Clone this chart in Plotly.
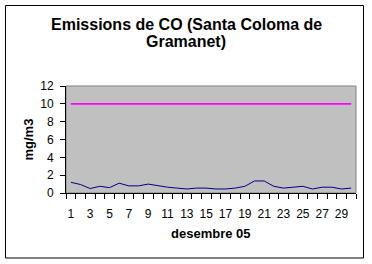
import plotly.graph_objects as go

# ---- data ----
days = list(range(1, 31))
co_values = [1.2, 0.95, 0.5, 0.75, 0.6, 1.1, 0.8, 0.8, 1.0, 0.8,
             0.65, 0.55, 0.45, 0.55, 0.55, 0.45, 0.45, 0.55, 0.75, 1.35,
             1.35, 0.75, 0.55, 0.65, 0.75, 0.45, 0.65, 0.65, 0.45, 0.55]
limit_values = [10, 10, 10, 10, 10, 10, 10, 10, 10, 10,
                10, 10, 10, 10, 10, 10, 10, 10, 10, 10,
                10, 10, 10, 10, 10, 10, 10, 10, 10, 10]
x_tick_labels = [str(d) for d in days if d % 2 == 1]
x_tick_vals = [d for d in days if d % 2 == 1]
y_ticks = [0, 2, 4, 6, 8, 10, 12]

title_line1 = "Emissions de CO (Santa Coloma de"
title_line2 = "Gramanet)"
y_title = "mg/m3"
x_title = "desembre 05"

FONT = "Arial, Liberation Sans, sans-serif"

fig = go.Figure()
fig.add_trace(go.Scatter(x=days, y=limit_values, mode="lines",
                         line=dict(color="#FF00FF", width=1.6),
                         showlegend=False, hoverinfo="skip"))
fig.add_trace(go.Scatter(x=days, y=co_values, mode="lines",
                         line=dict(color="#000080", width=1),
                         showlegend=False, hoverinfo="skip"))

W, H = 372, 264
L, R, T, B = 66, 16, 86, 71
pw, ph = W - L - R, H - T - B

def px_x(p):
    return (p - L) / pw

def px_y(p):
    return (H - B - p) / ph

fig.update_layout(
    width=W, height=H,
    margin=dict(l=L, r=R, t=T, b=B, pad=0),
    paper_bgcolor="white",
    plot_bgcolor="#C0C0C0",
    font=dict(family=FONT, size=12, color="black"),
    xaxis=dict(
        range=[0.5, 30.5],
        tickmode="array", tickvals=x_tick_vals, ticktext=x_tick_labels,
        ticks="", showgrid=False, zeroline=False,
        showline=True, linecolor="black", linewidth=1,
        ticklabelstandoff=10,
        tickfont=dict(size=12),
        minor=dict(tickmode="linear", tick0=0.5, dtick=1, ticks="outside",
                   ticklen=5, tickcolor="black", tickwidth=1, showgrid=False),
        fixedrange=True,
    ),
    yaxis=dict(
        range=[0, 12],
        tickmode="array", tickvals=y_ticks,
        ticks="outside", ticklen=5, tickcolor="black", tickwidth=1,
        showgrid=False, zeroline=False,
        showline=True, linecolor="black", linewidth=1,
        ticklabelstandoff=4,
        tickfont=dict(size=12),
        fixedrange=True,
    ),
    shapes=[
        dict(type="rect", xref="paper", yref="paper",
             x0=0, x1=1, y0=0, y1=1,
             line=dict(color="#808080", width=1), layer="below"),
        dict(type="rect", xref="paper", yref="paper",
             x0=px_x(5.5), x1=px_x(363.5), y0=px_y(258), y1=px_y(5.5),
             line=dict(color="black", width=1)),
    ],
    annotations=[
        dict(text="<b>%s</b>" % title_line1, xref="paper", yref="paper",
             x=px_x(186), y=px_y(24.5), xanchor="center", yanchor="middle",
             showarrow=False, font=dict(size=16, family=FONT)),
        dict(text="<b>%s</b>" % title_line2, xref="paper", yref="paper",
             x=px_x(186), y=px_y(41), xanchor="center", yanchor="middle",
             showarrow=False, font=dict(size=16, family=FONT)),
        dict(text="<b>%s</b>" % y_title, xref="paper", yref="paper",
             x=px_x(28), y=0.5, xanchor="center", yanchor="middle",
             textangle=-90, showarrow=False, font=dict(size=13, family=FONT)),
        dict(text="<b>%s</b>" % x_title, xref="paper", yref="paper",
             x=0.5, y=px_y(233.5), xanchor="center", yanchor="middle",
             showarrow=False, font=dict(size=13, family=FONT)),
    ],
)

fig.write_html("out.html")
